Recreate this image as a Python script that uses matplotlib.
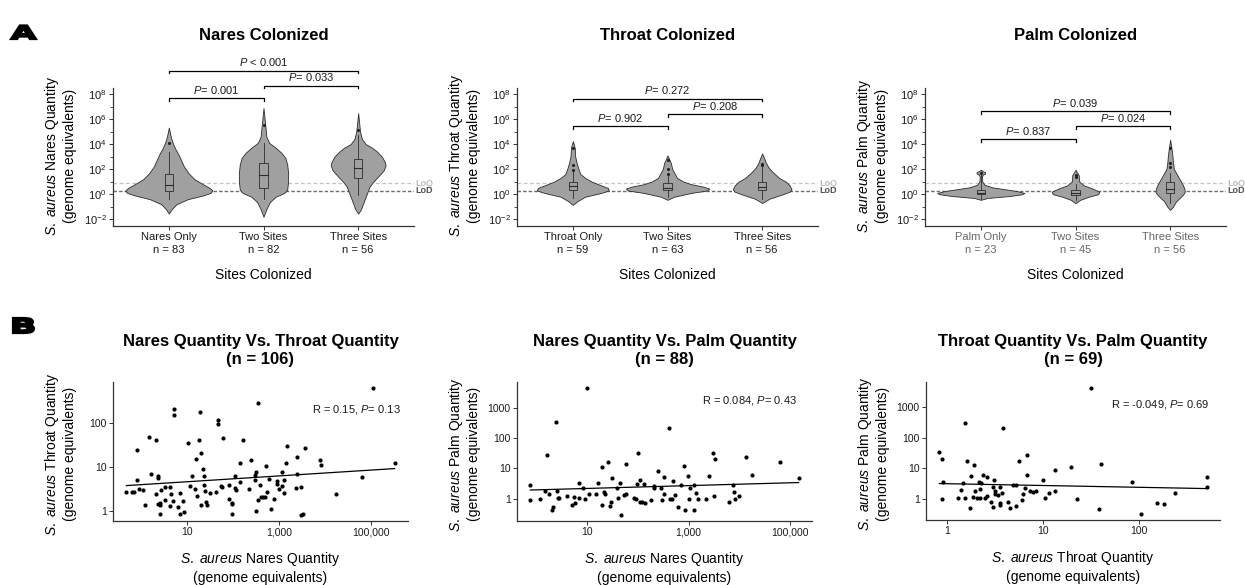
import numpy as np
import matplotlib
matplotlib.use("Agg")
import matplotlib.pyplot as plt
import matplotlib.ticker as mticker
import matplotlib.transforms as mtransforms
from matplotlib.textpath import TextPath
from matplotlib.patches import PathPatch, Rectangle
from matplotlib.font_manager import FontProperties

plt.rcParams['font.family'] = 'Liberation Sans'
plt.rcParams['mathtext.fontset'] = 'custom'
plt.rcParams['mathtext.rm'] = 'Liberation Sans'
plt.rcParams['mathtext.it'] = 'Liberation Sans:italic'
plt.rcParams['mathtext.bf'] = 'Liberation Sans:bold'

# ---------------- panel A: violins (log10 genome equivalents) ----------------
nares_groups = ["Nares Only\nn = 83", "Two Sites\nn = 82", "Three Sites\nn = 56"]
throat_groups = ["Throat Only\nn = 59", "Two Sites\nn = 63", "Three Sites\nn = 56"]
palm_groups = ["Palm Only\nn = 23", "Two Sites\nn = 45", "Three Sites\nn = 56"]

# violin outlines: log10 level and half width
nares_only_lvl = [-1.55, -1.2, -0.8, -0.4, -0.1, 0.1, 0.3, 0.5, 0.8, 1.2, 1.66, 2.2, 2.7, 3.2, 3.6, 4.1, 4.6, 5.32]
nares_only_hw = [0, 0.03, 0.08, 0.20, 0.36, 0.44, 0.46, 0.43, 0.36, 0.27, 0.21, 0.16, 0.13, 0.10, 0.07, 0.04, 0.02, 0]
nares_two_lvl = [-1.8, -1.2, -0.6, -0.2, 0.1, 0.35, 1.0, 1.7, 2.4, 2.9, 3.3, 3.7, 4.1, 4.6, 5.4, 6.87]
nares_two_hw = [0, 0.03, 0.07, 0.13, 0.22, 0.25, 0.26, 0.26, 0.25, 0.23, 0.19, 0.13, 0.06, 0.03, 0.02, 0]
nares_three_lvl = [-1.55, -1.2, -0.6, 0.0, 0.6, 1.0, 1.4, 1.9, 2.3, 2.6, 3.0, 3.4, 3.7, 4.0, 4.4, 5.0, 6.47]
nares_three_hw = [0, 0.03, 0.06, 0.09, 0.12, 0.16, 0.21, 0.27, 0.29, 0.28, 0.25, 0.20, 0.15, 0.08, 0.04, 0.02, 0]

throat_only_lvl = [-0.85, -0.55, -0.2, 0.1, 0.3, 0.5, 0.7, 1.0, 1.3, 1.6, 2.0, 2.5, 3.0, 3.7, 4.24]
throat_only_hw = [0, 0.05, 0.13, 0.30, 0.38, 0.37, 0.30, 0.20, 0.13, 0.08, 0.06, 0.04, 0.025, 0.02, 0]
throat_two_lvl = [-0.45, -0.2, 0.1, 0.3, 0.45, 0.6, 0.8, 1.0, 1.3, 1.6, 2.0, 2.5, 3.1]
throat_two_hw = [0, 0.07, 0.25, 0.42, 0.44, 0.38, 0.25, 0.17, 0.10, 0.08, 0.05, 0.035, 0]
throat_three_lvl = [-0.7, -0.35, 0.0, 0.2, 0.4, 0.7, 1.0, 1.3, 1.7, 2.1, 2.5, 2.9, 3.25]
throat_three_hw = [0, 0.08, 0.22, 0.29, 0.31, 0.29, 0.25, 0.18, 0.12, 0.07, 0.04, 0.02, 0]

palm_only_lvl = [-0.45, -0.3, -0.15, 0.0, 0.1, 0.25, 0.4, 0.55, 0.75, 1.0, 1.4, 1.55, 1.65, 1.75, 1.85, 1.95]
palm_only_hw = [0, 0.07, 0.30, 0.44, 0.46, 0.38, 0.25, 0.12, 0.04, 0.015, 0.012, 0.02, 0.045, 0.045, 0.02, 0]
palm_two_lvl = [-0.72, -0.45, -0.2, 0.0, 0.2, 0.45, 0.7, 1.0, 1.3, 1.5, 1.7, 1.95]
palm_two_hw = [0, 0.05, 0.14, 0.24, 0.25, 0.18, 0.09, 0.04, 0.035, 0.035, 0.02, 0]
palm_three_lvl = [-1.25, -1.0, -0.6, -0.3, 0.0, 0.2, 0.45, 0.8, 1.2, 1.6, 2.0, 2.5, 3.0, 3.6, 4.35]
palm_three_hw = [0, 0.03, 0.06, 0.10, 0.14, 0.155, 0.15, 0.13, 0.10, 0.07, 0.04, 0.03, 0.025, 0.015, 0]

# box stats: whisker low, Q1, median, Q3, whisker high (log10)
nares_box = [[-0.4, 0.27, 0.72, 1.6, 3.4], [-0.35, 0.53, 1.52, 2.46, 4.06], [-0.08, 1.26, 2.06, 2.78, 4.7]]
nares_out = [[4.1], [5.5], [5.13]]
throat_box = [[-0.3, 0.37, 0.64, 0.96, 1.8], [-0.2, 0.3, 0.53, 0.88, 1.5], [-0.4, 0.35, 0.6, 1.0, 2.2]]
throat_out = [[1.95, 2.3, 3.67], [1.6, 2.05, 2.7], [2.3, 2.45]]
palm_box = [[-0.4, 0.0, 0.13, 0.3, 1.6], [-0.45, -0.05, 0.13, 0.35, 0.83], [-0.67, 0.08, 0.4, 1.01, 1.68]]
palm_out = [[1.73], [1.36, 1.5], [2.2, 2.48, 3.65]]

# pairwise comparisons: (group a, group b, bracket height log10, label)
nares_tests = [(1, 2, 7.65, r"$\mathit{P}$= 0.001"), (2, 3, 8.66, r"$\mathit{P}$= 0.033"), (1, 3, 9.87, r"$\mathit{P}$ < 0.001")]
throat_tests = [(1, 2, 5.41, r"$\mathit{P}$= 0.902"), (2, 3, 6.4, r"$\mathit{P}$= 0.208"), (1, 3, 7.63, r"$\mathit{P}$= 0.272")]
palm_tests = [(1, 2, 4.4, r"$\mathit{P}$= 0.837"), (2, 3, 5.41, r"$\mathit{P}$= 0.024"), (1, 3, 6.61, r"$\mathit{P}$= 0.039")]

loq_log, lod_log = 0.88, 0.26

# ---------------- panel B: paired quantities (log10 genome equivalents) ----------------
nt_nares = [-0.33, -0.20, -0.16, -0.11, -0.11, -0.06, 0.03, 0.07, 0.16, 0.21, 0.32, 0.35, 0.35, 0.31, 0.36,
            0.40, 0.41, 0.42, 0.41, 0.51, 0.51, 0.61, 0.61, 0.64, 0.69, 0.70, 0.70, 0.79, 0.84, 0.84,
            0.91, 0.93, 1.01, 1.05, 1.09, 1.16, 1.19, 1.21, 1.26, 1.28, 1.30, 1.29, 1.34, 1.35, 1.35,
            1.38, 1.40, 1.43, 1.50, 1.62, 1.66, 1.66, 1.73, 1.76, 1.77, 1.91, 1.91, 1.96, 1.98, 1.96,
            2.04, 2.04, 2.06, 2.14, 2.15, 2.21, 2.34, 2.39, 2.46, 2.49, 2.46, 2.49, 2.53, 2.54, 2.58,
            2.61, 2.65, 2.68, 2.71, 2.73, 2.78, 2.82, 2.89, 2.94, 2.96, 2.99, 3.06, 3.05, 3.11, 3.11,
            3.14, 3.16, 3.37, 3.39, 3.39, 3.47, 3.48, 3.51, 3.56, 3.88, 3.90, 4.23, 4.79, 5.05, 5.51]
nt_throat = [0.44, 0.43, 0.43, 1.39, 0.71, 0.50, 0.47, 0.14, 1.67, 0.84, 1.62, 0.80, 0.74, 0.39, 0.16,
             0.18, 0.14, 0.48, -0.06, 0.55, 0.26, 0.55, 0.12, 0.38, 0.24, 2.31, 2.17, 0.10, 0.41, -0.06,
             0.24, -0.01, 1.54, 0.57, 0.80, 0.50, 1.17, 0.35, 1.62, 2.24, 1.32, 0.13, 0.95, 0.80, 0.59,
             0.45, 0.21, 0.14, 0.42, 0.44, 2.07, 1.98, 0.58, 0.55, 1.65, 0.59, 0.28, 0.19, 0.16, -0.07,
             0.80, 0.52, 0.47, 1.09, 0.65, 1.60, 0.50, 1.16, 0.82, 0.89, 0.71, 0.01, 2.44, 0.25, 0.59,
             0.31, 0.33, 0.31, 1.02, 0.43, 0.73, 0.05, 0.28, 0.68, 0.61, 0.50, 0.58, 0.89, 0.41, 0.70,
             1.08, 1.47, 0.53, 0.85, 1.23, 0.54, -0.08, -0.07, 1.44, 1.16, 1.04, 0.38, 0.77, 2.78, 1.10]

np_nares = [-0.11, -0.11, 0.08, 0.18, 0.21, 0.26, 0.32, 0.34, 0.40, 0.41, 0.43, 0.46, 0.61, 0.70, 0.75,
            0.77, 0.84, 0.85, 0.93, 0.96, 1.01, 1.05, 1.17, 1.22, 1.30, 1.30, 1.34, 1.36, 1.41, 1.45,
            1.48, 1.50, 1.59, 1.61, 1.66, 1.67, 1.72, 1.76, 1.77, 1.92, 1.96, 1.98, 2.01, 2.05, 2.05,
            2.08, 2.13, 2.15, 2.26, 2.32, 2.32, 2.39, 2.46, 2.48, 2.52, 2.52,
            2.61, 2.64, 2.67, 2.70, 2.73, 2.79, 2.84, 2.90, 2.93, 2.98, 3.02, 3.01, 3.10, 3.11, 3.15,
            3.19, 3.34, 3.40, 3.48, 3.52, 3.49, 3.79, 3.87, 3.90, 3.91, 3.99, 4.13, 4.25, 4.80, 5.16]
np_palm = [0.45, -0.05, 0.01, 0.25, 1.44, 0.16, -0.36, -0.27, 2.51, 0.25, 0.03, 0.04, 0.08, -0.21, 0.05,
           -0.13, 0.53, 0.02, 0.36, 0.01, 3.63, 0.15, 0.15, 0.51, -0.19, 1.04, 0.23, 0.15, 1.22, -0.25,
           -0.09, 0.70, 0.34, 0.03, 0.52, -0.52, 0.13, 0.17, 1.15, 0.03, -0.01, 0.49, 1.52, 0.62, -0.10,
           -0.10, 0.49, -0.12, -0.03, 0.41, 0.36, 0.93, 0.34, -0.05, 0.71, 0.16,
           2.32, 0.01, 0.00, 0.58, 0.11, -0.26, 0.45, 1.07, -0.35, 0.75, 0.36, -0.01, -0.37, 0.45, 0.19,
           0.01, 0.01, 0.76, 1.50, 1.30, 0.09, -0.11, 0.47, 0.21, 0.00, 0.08, 1.36, 0.77, 1.22, 0.68]

tp_throat = [-0.08, -0.055, -0.055, -0.045, 0.11, 0.15, 0.17, 0.19, 0.19, 0.21, 0.24, 0.25, 0.28, 0.27, 0.29,
             0.31, 0.33, 0.34, 0.34, 0.35, 0.38, 0.40, 0.42, 0.42, 0.46, 0.48, 0.48, 0.49, 0.50, 0.50,
             0.53, 0.55, 0.55, 0.55, 0.57, 0.58, 0.64, 0.66, 0.69, 0.72, 0.72, 0.75, 0.78, 0.79, 0.81,
             0.83, 0.83, 0.87, 0.90, 0.93, 1.00, 1.02, 1.06, 1.13, 1.13, 1.29,
             1.50, 1.36, 1.59, 1.61, 1.93, 2.02, 2.19, 2.26, 2.38, 2.71, 2.71]
tp_palm = [1.52, 1.30, -0.02, 0.55, 0.04, 0.29, 0.52, 0.03, 2.49, 1.25, -0.30, 0.73, 1.09, 0.06, 0.27,
           0.03, 0.55, 0.33, 0.03, 0.53, 0.78, 0.04, 0.72, 0.10, -0.12, 0.39, -0.26, 0.63, 0.27, 0.16,
           0.12, -0.15, -0.20, 0.38, 0.18, 2.32, -0.10, -0.31, 0.46, 0.46, -0.25, 1.24, -0.05, 0.17, 0.35,
           1.44, 0.78, 0.25, 0.23, 0.25, 0.60, 0.02, 0.20, 0.95, 0.24, 1.04,
           3.62, -0.01, -0.33, 1.14, 0.55, -0.49, -0.15, -0.17, 0.18, 0.70, 0.39]

VIOLIN = '#a0a0a0'
EDGE = '#2b2b2b'
AXC = '#333333'

W, H = 1245, 585
fig = plt.figure(figsize=(W / 100, H / 100), dpi=100)


def add_ax(left, right, top, bottom):
    return fig.add_axes([left / W, 1 - bottom / H, (right - left) / W, (bottom - top) / H])


def style(ax, labelsize):
    for s in ('top', 'right'):
        ax.spines[s].set_visible(False)
    for s in ('left', 'bottom'):
        ax.spines[s].set_color(AXC)
        ax.spines[s].set_linewidth(0.9)
    ax.tick_params(colors=AXC, labelcolor='#1a1a1a', labelsize=labelsize, length=3, width=0.7, pad=1.5)
    ax.tick_params(which='minor', length=2, width=0.6, colors=AXC)
    ax.patch.set_alpha(0)


def violin_panel(ax, title, ylab, groups, lvls, hws, boxes, outs, tests):
    style(ax, 8)
    ax.set_yscale('log')
    ax.set_ylim(10 ** -2.54, 10 ** 8.48)
    ax.set_xlim(0.41, 3.59)
    ax.yaxis.set_major_locator(mticker.FixedLocator(10.0 ** np.arange(-2, 9, 2)))
    ax.yaxis.set_minor_locator(mticker.FixedLocator(10.0 ** np.arange(-1, 8, 2)))
    ax.yaxis.set_major_formatter(mticker.LogFormatterSciNotation())
    ax.yaxis.set_minor_formatter(mticker.NullFormatter())
    ax.set_xticks([1, 2, 3])
    ax.set_xticklabels(groups, linespacing=1.35)

    ax.axhline(10 ** loq_log, color='#c4c4c4', ls=(0, (3, 2)), lw=0.9, zorder=1)
    ax.axhline(10 ** lod_log, color='#6e6e6e', ls=(0, (2.5, 1.5)), lw=1.0, zorder=1)
    tr = ax.get_yaxis_transform()
    ax.text(1.005, 10 ** loq_log, 'LoQ', transform=tr, fontsize=6.5, fontweight='bold',
            color='#bdbdbd', va='center', ha='left')
    ax.text(1.005, 10 ** lod_log, 'LoD', transform=tr, fontsize=6.5, fontweight='bold',
            color='#555555', va='center', ha='left')

    bw = 0.045
    for i in range(3):
        x = i + 1
        y = 10 ** np.array(lvls[i])
        hw = np.array(hws[i])
        ax.fill_betweenx(y, x - hw, x + hw, facecolor=VIOLIN, edgecolor=EDGE, lw=0.6, zorder=2)
        lo, q1, med, q3, hi = 10 ** np.array(boxes[i])
        ax.plot([x, x], [lo, q1], color=EDGE, lw=0.6, zorder=3)
        ax.plot([x, x], [q3, hi], color=EDGE, lw=0.6, zorder=3)
        ax.add_patch(Rectangle((x - bw, q1), 2 * bw, q3 - q1, facecolor=VIOLIN,
                               edgecolor=EDGE, lw=0.6, zorder=3))
        ax.plot([x - bw, x + bw], [med, med], color=EDGE, lw=0.8, zorder=4)
        ax.scatter([x] * len(outs[i]), 10 ** np.array(outs[i]), s=5, color='#222222',
                   zorder=5, linewidths=0)

    for a, b, lev, lab in tests:
        yb, yt = 10 ** lev, 10 ** (lev - 0.2)
        ax.plot([a, a, b, b], [yt, yb, yb, yt], color='black', lw=0.9, clip_on=False)
        ax.text((a + b) / 2, 10 ** (lev + 0.2), lab, ha='center', va='bottom', fontsize=8,
                color='#1a1a1a')

    ax.text(0.5, 1.384, title, transform=ax.transAxes, ha='center', va='center',
            fontsize=12, fontweight='bold')
    ax.text(-53 / 301, 0.51, ylab, transform=ax.transAxes, rotation=90, ha='center',
            va='center', fontsize=10, linespacing=1.22, multialignment='center')
    ax.text(0.5, -0.355, 'Sites Colonized', transform=ax.transAxes, ha='center',
            va='center', fontsize=10)


def scatter_panel(ax, title, xlab, ylab, xs, ys, rtext, rpos, yfmt_ticks, xfmt_ticks):
    style(ax, 7.5)
    lx, ly = np.array(xs), np.array(ys)
    ax.set_xscale('log')
    ax.set_yscale('log')
    px = 0.05 * (lx.max() - lx.min())
    py = 0.05 * (ly.max() - ly.min())
    ax.set_xlim(10 ** (lx.min() - px), 10 ** (lx.max() + px))
    ax.set_ylim(10 ** (ly.min() - py), 10 ** (ly.max() + py))
    ax.xaxis.set_major_locator(mticker.FixedLocator(xfmt_ticks))
    ax.yaxis.set_major_locator(mticker.FixedLocator(yfmt_ticks))
    ax.xaxis.set_minor_locator(mticker.NullLocator())
    ax.yaxis.set_minor_locator(mticker.NullLocator())
    ax.xaxis.set_major_formatter(mticker.FuncFormatter(lambda v, _: f"{v:,.0f}"))
    ax.yaxis.set_major_formatter(mticker.FuncFormatter(lambda v, _: f"{v:.0f}"))

    ax.scatter(10 ** lx, 10 ** ly, s=9, color='black', linewidths=0, zorder=3)
    slope, icpt = np.polyfit(lx, ly, 1)
    fx = np.array([lx.min(), lx.max()])
    ax.plot(10 ** fx, 10 ** (icpt + slope * fx), color='black', lw=0.9, zorder=2)

    ax.text(rpos[0], rpos[1], rtext, transform=ax.transAxes, ha='right', va='center',
            fontsize=8, color='#1a1a1a')
    ax.text(0.5, 1.227, title, transform=ax.transAxes, ha='center', va='center',
            fontsize=12, fontweight='bold', linespacing=1.25)
    ax.text(-53 / 295, 0.48, ylab, transform=ax.transAxes, rotation=90, ha='center',
            va='center', fontsize=10, linespacing=1.22, multialignment='center')
    ax.text(0.5, -0.335, xlab, transform=ax.transAxes, ha='center', va='center',
            fontsize=10, linespacing=1.3, multialignment='center')


def ylab_for(site):
    return r"$\mathit{S.\ aureus}$ " + site + " Quantity\n(genome equivalents)"


ax1 = add_ax(113, 414, 88, 226)
violin_panel(ax1, 'Nares Colonized', ylab_for('Nares'), nares_groups,
             [nares_only_lvl, nares_two_lvl, nares_three_lvl],
             [nares_only_hw, nares_two_hw, nares_three_hw], nares_box, nares_out, nares_tests)
ax2 = add_ax(517, 818, 88, 226)
violin_panel(ax2, 'Throat Colonized', ylab_for('Throat'), throat_groups,
             [throat_only_lvl, throat_two_lvl, throat_three_lvl],
             [throat_only_hw, throat_two_hw, throat_three_hw], throat_box, throat_out, throat_tests)
ax3 = add_ax(925, 1226, 88, 226)
violin_panel(ax3, 'Palm Colonized', ylab_for('Palm'), palm_groups,
             [palm_only_lvl, palm_two_lvl, palm_three_lvl],
             [palm_only_hw, palm_two_hw, palm_three_hw], palm_box, palm_out, palm_tests)
ax3.tick_params(axis='x', labelcolor='#666666')

bx1 = add_ax(113, 408, 382, 521)
scatter_panel(bx1, "Nares Quantity Vs. Throat Quantity\n(n = 106)", ylab_for('Nares'),
              ylab_for('Throat'), nt_nares, nt_throat, r"R = 0.15, $\mathit{P}$= 0.13",
              (0.976, 0.80), [1, 10, 100], [10, 1000, 100000])
bx2 = add_ax(517, 812, 382, 521)
scatter_panel(bx2, "Nares Quantity Vs. Palm Quantity\n(n = 88)", ylab_for('Nares'),
              ylab_for('Palm'), np_nares, np_palm, r"R = 0.084, $\mathit{P}$= 0.43",
              (0.949, 0.87), [1, 10, 100, 1000], [10, 1000, 100000])
bx3 = add_ax(926, 1220, 382, 520)
scatter_panel(bx3, "Throat Quantity Vs. Palm Quantity\n(n = 69)", ylab_for('Throat'),
              ylab_for('Palm'), tp_throat, tp_palm, r"R = -0.049, $\mathit{P}$= 0.69",
              (0.963, 0.84), [1, 10, 100, 1000], [1, 10, 100])


def panel_letter(letter, x0, top, w, h):
    tp = TextPath((0, 0), letter, size=20, prop=FontProperties(family='DejaVu Sans', weight='bold'))
    ext = tp.get_extents()
    tr = (mtransforms.Affine2D().translate(-ext.x0, -ext.y0)
          .scale(w / ext.width, h / ext.height).translate(x0, H - top - h))
    fig.add_artist(PathPatch(tr.transform_path(tp), transform=mtransforms.IdentityTransform(),
                             facecolor='black', edgecolor='black', lw=1.6, joinstyle='miter'))


panel_letter('A', 11, 25.5, 25, 13.5)
panel_letter('B', 13, 318, 21, 15)

fig.savefig('out.png', dpi=100)
